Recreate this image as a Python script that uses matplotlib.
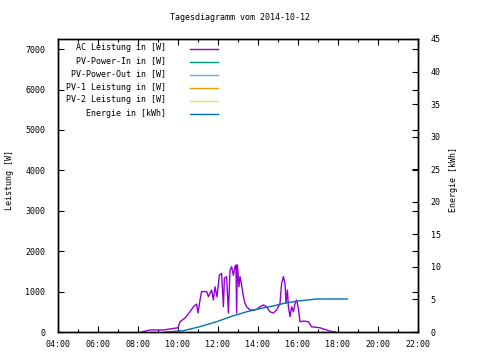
import numpy as np
import matplotlib.pyplot as plt
from matplotlib.lines import Line2D

# Tagesdiagramm 2014-10-12, Zeit in Stunden
ac_h = [8.18, 8.6, 9.27, 10.0, 10.1, 10.35, 10.6, 10.77, 10.93, 11.0, 11.1, 11.18,
        11.43, 11.52, 11.68, 11.77, 11.85, 11.95, 12.07, 12.18, 12.27, 12.32, 12.43,
        12.52, 12.6, 12.68, 12.77, 12.85, 12.9, 12.93, 12.97, 13.05, 13.1, 13.17,
        13.27, 13.35, 13.43, 13.6, 13.77, 13.93, 14.1, 14.27, 14.43, 14.6, 14.77,
        14.93, 15.1, 15.18, 15.27, 15.35, 15.4, 15.47, 15.52, 15.6, 15.68, 15.77,
        15.85, 15.93, 16.02, 16.1, 16.27, 16.52, 16.68, 17.1, 17.43, 17.6, 17.85]
ac_w = [0, 50, 50, 105, 255, 345, 500, 625, 690, 470, 790, 1000,
        1000, 875, 1040, 790, 1120, 870, 1410, 1450, 625, 1330, 1370,
        470, 1530, 1615, 1400, 1615, 1660, 470, 1660, 1120, 1370, 1200,
        875, 710, 625, 545, 545, 560, 625, 670, 625, 500, 470,
        545, 710, 1200, 1370, 1200, 710, 1040, 625, 380, 625, 500,
        710, 790, 580, 255, 270, 255, 130, 105, 50, 20, 0]

en_h = [9.35, 10.27, 11.1, 11.93, 12.77, 13.43, 14.1, 14.77, 15.43, 16.1, 16.93, 17.77, 18.47]
en_kwh = [0, 0.2, 0.82, 1.58, 2.5, 3.1, 3.6, 4.0, 4.5, 4.8, 5.07, 5.07, 5.07]

legend_labels = ["AC Leistung in [W]", "PV-Power-In in [W]", "PV-Power-Out in [W]",
                 "PV-1 Leistung in [W]", "PV-2 Leistung in [W]", "Energie in [kWh]"]
legend_colors = ["#9400d3", "#009e73", "#56b4e9", "#e69f00", "#f0e442", "#0072b2"]

xticks = list(range(4, 23, 2))
xtick_labels = ["%02d:00" % h for h in xticks]

plt.rcParams['font.family'] = 'DejaVu Sans Mono'
plt.rcParams['font.size'] = 6

fig = plt.figure(figsize=(4.8, 3.6), dpi=100)
ax = fig.add_axes([58/480, 28/360, 360/480, 293/360])
ax2 = ax.twinx()

ax.plot(ac_h, ac_w, color=legend_colors[0], lw=1)
ax2.plot(en_h, en_kwh, color=legend_colors[5], lw=1)

ax.set_xlim(4, 22)
ax.set_ylim(0, 7250)
ax2.set_ylim(0, 45)

ax.set_xticks(xticks)
ax.set_xticklabels(xtick_labels)
ax.set_xticks(range(4, 23), minor=True)
ax.set_yticks(range(0, 7001, 1000))
ax2.set_yticks(range(0, 46, 5))

ax.tick_params(axis='both', which='major', direction='in', length=4, width=0.8,
               top=True, right=True, pad=6)
ax.tick_params(axis='x', which='minor', direction='in', length=2, width=0.8, top=True)
ax.tick_params(axis='y', pad=9)
ax2.tick_params(axis='y', direction='in', length=4, width=0.8, pad=9)

for a in (ax, ax2):
    for s in a.spines.values():
        s.set_linewidth(1)

fig.text(10/480, 0.5, "Leistung [W]", rotation=90, ha='center', va='center')
fig.text(453/480, 0.5, "Energie [kWh]", rotation=90, ha='center', va='center')
fig.text(0.5, 1 - 18/360, "Tagesdiagramm vom 2014-10-12", ha='center', va='center')

# Legende im gnuplot-Stil: Text rechtsbuendig, Linie rechts daneben
row_y = [48, 61, 74, 87, 100, 113]
for lab, col, y in zip(legend_labels, legend_colors, row_y):
    fig.text(166/480, 1 - y/360, lab, ha='right', va='center')
    fig.add_artist(Line2D([190/480, 218/480], [1 - (y+1)/360, 1 - (y+1)/360],
                          color=col, lw=1))

fig.savefig("out.png", dpi=100)
